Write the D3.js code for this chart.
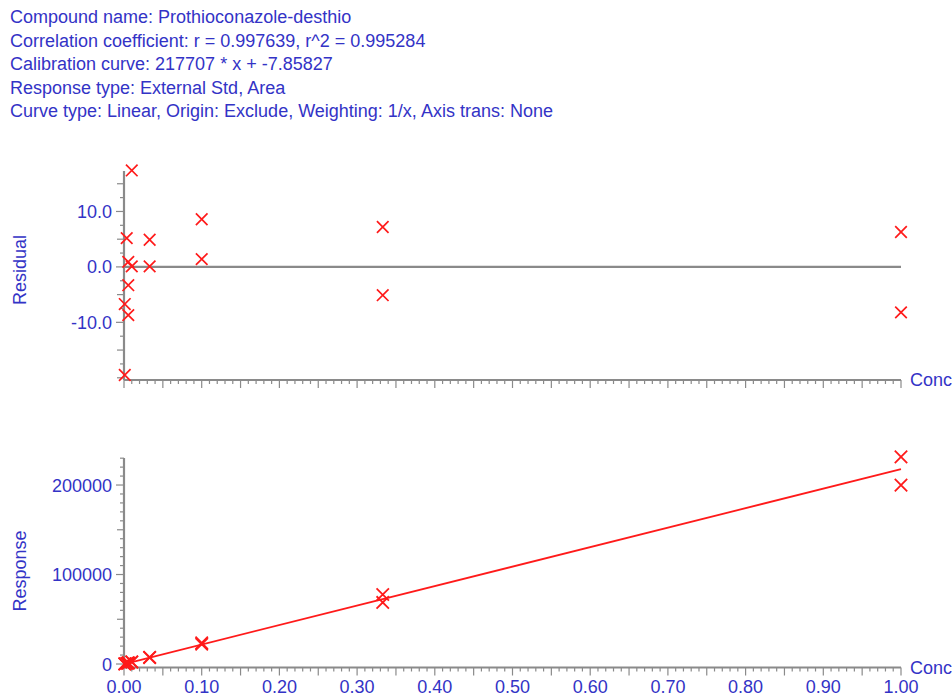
<!DOCTYPE html>
<html>
<head>
<meta charset="utf-8">
<script src="https://cdn.jsdelivr.net/npm/d3@7"></script>
<style>
  html, body { margin: 0; padding: 0; background: #ffffff; }
  svg { display: block; }
  text { font-family: "Liberation Sans", Arial, sans-serif; }
</style>
</head>
<body>
<svg id="chart" width="952" height="695"></svg>
<script>
// Calibration header
const headerLines = [
  "Compound name: Prothioconazole-desthio",
  "Correlation coefficient: r = 0.997639, r^2 = 0.995284",
  "Calibration curve: 217707 * x + -7.85827",
  "Response type: External Std, Area",
  "Curve type: Linear, Origin: Exclude, Weighting: 1/x, Axis trans: None"
];

// Fit parameters
const slope = 217707;
const intercept = -7.85827;

// Calibration standards
const conc = [0.001, 0.001, 0.0035, 0.0055, 0.0055, 0.0055, 0.01, 0.01,
              0.033, 0.033, 0.1, 0.1, 0.333, 0.333, 1.0, 1.0];
const response = [195.8, 168.9, 793.3, 1200.2, 1150.2, 1086.0, 2546.6, 2171.4,
                  7528.2, 7183.7, 23634.4, 22067.5, 77707.8, 68791.7, 231414.2, 199847.8];
const residual = [-6.7, -19.5, 5.2, 0.9, -3.3, -8.7, 17.4, 0.1,
                  4.9, 0.1, 8.6, 1.4, 7.2, -5.1, 6.3, -8.2];

// Axis ticks
const xTickLabels = ["0.00","0.10","0.20","0.30","0.40","0.50","0.60","0.70","0.80","0.90","1.00"];
const xTickValues = [0,0.1,0.2,0.3,0.4,0.5,0.6,0.7,0.8,0.9,1.0];
const residTickValues = [-10, 0, 10];
const residTickLabels = ["-10.0", "0.0", "10.0"];
const respTickValues = [0, 100000, 200000];
const respTickLabels = ["0", "100000", "200000"];

const BLUE = "#3333c6";
const RED = "#ff1a1a";
const GREY = "#8a8a8a";

const svg = d3.select("#chart");

// Header text
svg.append("g").selectAll("text").data(headerLines).join("text")
  .attr("x", 10)
  .attr("y", (d, i) => 23 + i * 23.6)
  .attr("fill", BLUE)
  .attr("font-size", 18)
  .text(d => d);

// Shared x scale
const x = d3.scaleLinear().domain([0, 1]).range([124, 901]);

// Panel scales
const yRes = d3.scaleLinear().domain([-20.4, 17.3]).range([380, 171]);
const yResp = d3.scaleLinear().domain([-3900, 230200]).range([667.5, 458]);

function crossPath(cx, cy, s) {
  return `M${cx - s},${cy - s}L${cx + s},${cy + s}M${cx - s},${cy + s}L${cx + s},${cy - s}`;
}

function drawXAxis(g, yPos, withLabels) {
  // minor ticks every 0.01, longer every 0.05
  const minor = d3.range(0, 101).map(i => i / 100);
  g.append("g").selectAll("line").data(minor).join("line")
    .attr("x1", d => x(d)).attr("x2", d => x(d))
    .attr("y1", yPos)
    .attr("y2", (d, i) => yPos + (i % 5 === 0 ? 8 : 4))
    .attr("stroke", GREY).attr("stroke-width", 1.2);
  g.append("line")
    .attr("x1", x(0)).attr("x2", x(1))
    .attr("y1", yPos).attr("y2", yPos)
    .attr("stroke", GREY).attr("stroke-width", 2.2);
  if (withLabels) {
    g.append("g").selectAll("text").data(xTickValues).join("text")
      .attr("x", d => x(d))
      .attr("y", yPos + 25)
      .attr("text-anchor", "middle")
      .attr("fill", BLUE)
      .attr("font-size", 18)
      .text((d, i) => xTickLabels[i]);
  }
  g.append("text")
    .attr("x", 910).attr("y", yPos + 6)
    .attr("fill", BLUE).attr("font-size", 18)
    .text("Conc");
}

function drawYAxis(g, scale, minorStep, midStep, majorVals, majorLabels, title, titleY) {
  const [d0, d1] = scale.domain();
  const start = Math.ceil(d0 / minorStep) * minorStep;
  const ticks = d3.range(start, d1 + 1e-9, minorStep);
  g.append("g").selectAll("line").data(ticks).join("line")
    .attr("x1", x(0)).attr("x2", d => {
      const isMajor = majorVals.some(v => Math.abs(v - d) < minorStep / 10);
      const isMid = Math.abs(d / midStep - Math.round(d / midStep)) < 1e-6;
      return x(0) - (isMajor ? 8 : isMid ? 7 : 4);
    })
    .attr("y1", d => scale(d)).attr("y2", d => scale(d))
    .attr("stroke", GREY).attr("stroke-width", 1.2);
  g.append("line")
    .attr("x1", x(0)).attr("x2", x(0))
    .attr("y1", scale(d0)).attr("y2", scale(d1))
    .attr("stroke", GREY).attr("stroke-width", 2.2);
  g.append("g").selectAll("text").data(majorVals).join("text")
    .attr("x", 112)
    .attr("y", d => scale(d) + 6.5)
    .attr("text-anchor", "end")
    .attr("fill", BLUE)
    .attr("font-size", 18)
    .text((d, i) => majorLabels[i]);
  g.append("text")
    .attr("transform", `translate(26,${titleY}) rotate(-90)`)
    .attr("text-anchor", "middle")
    .attr("fill", BLUE)
    .attr("font-size", 18)
    .text(title);
}

// Residual panel
const gRes = svg.append("g");
gRes.append("line")
  .attr("x1", x(0)).attr("x2", x(1))
  .attr("y1", yRes(0)).attr("y2", yRes(0))
  .attr("stroke", GREY).attr("stroke-width", 2.2);
drawYAxis(gRes, yRes, 2.5, 5, residTickValues, residTickLabels, "Residual", 270);
drawXAxis(gRes, yRes(-20.4), false);
gRes.append("g").selectAll("path").data(conc).join("path")
  .attr("d", (d, i) => crossPath(x(d), yRes(residual[i]), 5.8))
  .attr("stroke", RED).attr("stroke-width", 1.7).attr("fill", "none");

// Response panel
const gResp = svg.append("g");
drawYAxis(gResp, yResp, 10000, 50000, respTickValues, respTickLabels, "Response", 571);
drawXAxis(gResp, yResp(-3900), true);
const fitLine = d3.line().x(d => x(d)).y(d => yResp(slope * d + intercept));
gResp.append("path")
  .datum([0, 1])
  .attr("d", fitLine)
  .attr("stroke", RED).attr("stroke-width", 1.8).attr("fill", "none");
gResp.append("g").selectAll("path").data(conc).join("path")
  .attr("d", (d, i) => crossPath(x(d), yResp(response[i]), 6.2))
  .attr("stroke", RED).attr("stroke-width", 1.8).attr("fill", "none");
</script>
</body>
</html>
